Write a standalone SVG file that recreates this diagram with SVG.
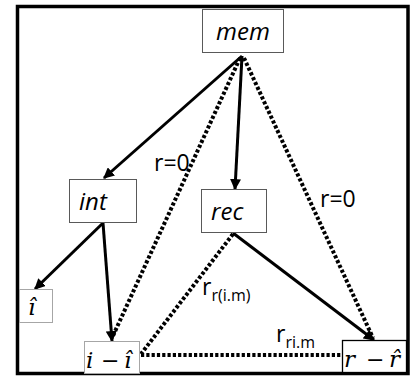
<svg xmlns="http://www.w3.org/2000/svg" width="413" height="377" viewBox="0 0 413 377">
<defs>
<style>
.box{fill:#fff;stroke:#595959;stroke-width:1}
.lt{stroke:#a6a6a6}
.dk{stroke:#000;stroke-width:1.3}
.lbl{font-family:"Open Sans","Noto Sans",sans-serif;font-style:italic;font-size:24px;fill:#000}
.math{font-family:"DejaVu Serif","Liberation Serif",serif;font-style:italic;font-size:23px;fill:#000}
.mop{font-family:"DejaVu Sans","Liberation Sans",sans-serif;font-size:22px;fill:#000}
.rt{font-family:"Open Sans","Noto Sans",sans-serif;font-size:23px;fill:#000}
.sub{font-size:16px}
.solid{stroke:#000;stroke-width:3;fill:none;marker-end:url(#ah)}
.dot{stroke:#000;stroke-width:4;fill:none;stroke-dasharray:3.2 2.1}
</style>
<marker id="ah" viewBox="0 0 10 10" refX="9" refY="5" markerWidth="11" markerHeight="11" markerUnits="userSpaceOnUse" orient="auto">
<path d="M0,0 L10,5 L0,10 z" fill="#000"/>
</marker>
</defs>
<rect x="0" y="0" width="413" height="377" fill="#fff"/>
<rect x="17.5" y="6.5" width="390.5" height="367" fill="none" stroke="#000" stroke-width="3.5"/>
<g id="connectors">
<line class="dot" x1="240" y1="58" x2="112" y2="338"/>
<line class="dot" x1="244" y1="58" x2="373" y2="338"/>
<line class="dot" x1="233" y1="234" x2="141" y2="354"/>
<line class="dot" x1="141" y1="355" x2="342" y2="355"/>
<line class="solid" x1="242" y1="56" x2="104" y2="178"/>
<line class="solid" x1="242" y1="56" x2="235" y2="189"/>
<line class="solid" x1="103" y1="223" x2="35" y2="289"/>
<line class="solid" x1="103" y1="223" x2="112" y2="341"/>
<line class="solid" x1="233" y1="233" x2="374" y2="340"/>
<text class="rt" x="154" y="171">r=0</text>
<text class="rt" x="320" y="207">r=0</text>
<text class="rt" x="202" y="295">r<tspan class="sub" dy="6">r(i.m)</tspan></text>
<text class="rt" x="276" y="342">r<tspan class="sub" dy="6">ri.m</tspan></text>
</g>
<g id="mem">
<rect class="box" x="202.5" y="9.5" width="81" height="43"/>
<text class="lbl" x="243" y="40" text-anchor="middle">mem</text>
</g>
<g id="int">
<rect class="box" x="69.5" y="179.5" width="67" height="43"/>
<text class="lbl" x="79" y="210">int</text>
</g>
<g id="rec">
<rect class="box" x="201.5" y="189.5" width="65" height="43"/>
<text class="lbl" x="211" y="220">rec</text>
</g>
<g id="ihat">
<rect class="box lt" x="19.5" y="289.5" width="33" height="33"/>
<text class="math" x="28" y="315">ı̂</text>
</g>
<g id="iminus">
<rect class="box lt" x="84.5" y="341.5" width="55" height="32"/>
<text class="math" x="86" y="368">i</text>
<text class="mop" x="101" y="368">−</text>
<text class="math" x="124" y="368">ı̂</text>
</g>
<g id="rminus">
<rect class="box dk" x="342.5" y="340.5" width="64" height="32"/>
<text class="math" x="344" y="367">r</text>
<text class="mop" x="366" y="367">−</text>
<text class="math" x="389" y="367">r̂</text>
</g>
</svg>
